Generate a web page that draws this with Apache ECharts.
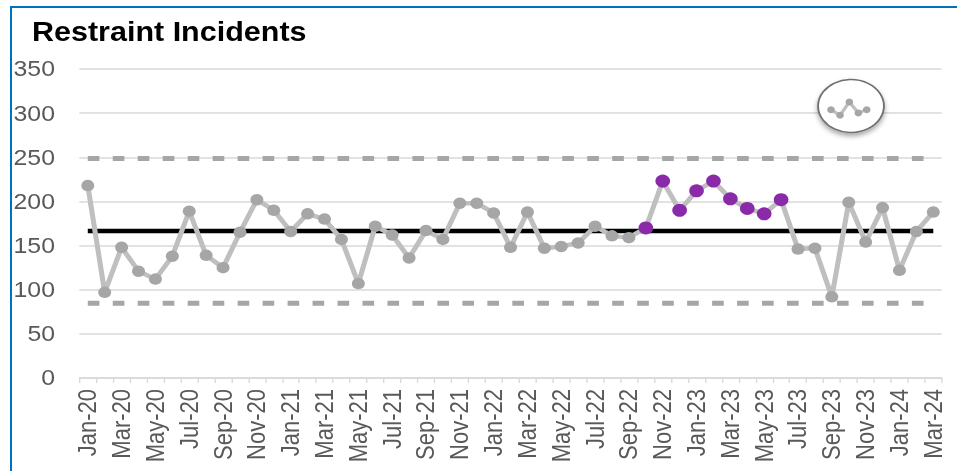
<!DOCTYPE html>
<html>
<head>
<meta charset="utf-8">
<title>Restraint Incidents</title>
<script src="https://cdn.jsdelivr.net/npm/echarts@6/dist/echarts.min.js"></script>
<style>
  html, body { margin: 0; padding: 0; background: #fff; }
  #wrap { position: relative; width: 957px; height: 471px; overflow: hidden; background: #fff; }
  #frame { position: absolute; left: 10px; top: 6px; right: -10px; bottom: -10px;
           border-left: 2px solid #0070C0; border-top: 2px solid #0070C0; }
  /* the chart is laid out narrow and widened to the full frame */
  #chart { position: absolute; left: 0; top: 0; width: 847px; height: 471px;
           transform: scaleX(1.13); transform-origin: 0 0; }
</style>
</head>
<body>
<div id="wrap">
  <div id="frame"></div>
  <div id="chart"></div>
</div>
<script>
// Monthly restraint incidents, Jan 2020 – Mar 2024
const months = [
  'Jan-20','Feb-20','Mar-20','Apr-20','May-20','Jun-20','Jul-20','Aug-20','Sep-20','Oct-20','Nov-20','Dec-20',
  'Jan-21','Feb-21','Mar-21','Apr-21','May-21','Jun-21','Jul-21','Aug-21','Sep-21','Oct-21','Nov-21','Dec-21',
  'Jan-22','Feb-22','Mar-22','Apr-22','May-22','Jun-22','Jul-22','Aug-22','Sep-22','Oct-22','Nov-22','Dec-22',
  'Jan-23','Feb-23','Mar-23','Apr-23','May-23','Jun-23','Jul-23','Aug-23','Sep-23','Oct-23','Nov-23','Dec-23',
  'Jan-24','Feb-24','Mar-24'
];
const incidents = [
  218, 97, 148, 121, 112, 138, 189, 139, 125, 165, 202, 190,
  166, 186, 180, 157, 107, 172, 162, 136, 167, 157, 198, 198,
  187, 148, 188, 147, 149, 153, 172, 161, 159, 170, 223, 190,
  212, 223, 203, 192, 186, 202, 146, 147, 92, 199, 154, 193,
  122, 166, 188
];
// Months flagged as a run above the mean
const flaggedMonths = ['Oct-22','Nov-22','Dec-22','Jan-23','Feb-23','Mar-23','Apr-23','May-23','Jun-23'];

// Process limits
const meanValue = 166.6;
const upperLimit = 248.6;
const lowerLimit = 84.6;

const yTicks = { min: 0, max: 350, step: 50 };

const FONT = '"Liberation Sans", Arial, sans-serif';
const GREY_LINE = '#BFBFBF';
const GREY_DOT = '#A6A6A6';
const PURPLE = '#8B2AA9';

const chart = echarts.init(document.getElementById('chart'), null, { renderer: 'svg' });

const pointData = incidents.map((v, i) => {
  const flagged = flaggedMonths.includes(months[i]);
  return {
    value: v,
    symbolSize: flagged ? 13 : 11.5,
    itemStyle: { color: flagged ? PURPLE : GREY_DOT }
  };
});
const constant = (val) => months.map(() => val);

// Small variation icon in the top-right corner
const sparkX = [735.4, 743.4, 751.6, 759.6, 767.0];
const sparkY = [109.7, 115.3, 102.0, 113.0, 109.7];
const sparkPts = sparkX.map((x, i) => [x, sparkY[i]]);

const limitStyle = { color: GREY_DOT, width: 5, type: [10.3, 11.8], cap: 'butt' };

chart.setOption({
  animation: false,
  title: {
    text: 'Restraint Incidents',
    left: 28.3,
    top: 18.5,
    padding: 0,
    textStyle: { fontFamily: FONT, fontSize: 27, fontWeight: 'bold', color: '#000' }
  },
  grid: { left: 70.2, right: 13.6, top: 69, bottom: 93, containLabel: false },
  xAxis: {
    type: 'category',
    data: months,
    boundaryGap: true,
    axisLine: { lineStyle: { color: '#D9D9D9', width: 1.5 } },
    axisTick: { show: true, interval: 0, length: 5, lineStyle: { color: '#D9D9D9', width: 1.2 } },
    axisLabel: { interval: 1, rotate: 90, margin: 11, fontFamily: FONT, fontSize: 22, color: '#595959' },
    splitLine: { show: false }
  },
  yAxis: {
    type: 'value',
    min: yTicks.min,
    max: yTicks.max,
    interval: yTicks.step,
    axisLine: { show: false },
    axisTick: { show: false },
    axisLabel: { margin: 21.5, fontFamily: FONT, fontSize: 22, color: '#595959' },
    splitLine: { lineStyle: { color: '#D9D9D9', width: 1.5 } }
  },
  series: [
    {
      name: 'Upper limit', type: 'line', data: constant(upperLimit), symbol: 'none', silent: true,
      lineStyle: limitStyle, z: 2
    },
    {
      name: 'Lower limit', type: 'line', data: constant(lowerLimit), symbol: 'none', silent: true,
      lineStyle: limitStyle, z: 2
    },
    {
      name: 'Mean', type: 'line', data: constant(meanValue), symbol: 'none', silent: true,
      lineStyle: { color: '#000', width: 4.5 }, z: 3
    },
    {
      name: 'Incidents', type: 'line', data: pointData,
      symbol: 'circle', showAllSymbol: true,
      lineStyle: { color: GREY_LINE, width: 4.5 },
      itemStyle: { color: GREY_DOT, borderWidth: 0 },
      z: 4
    }
  ],
  graphic: [
    {
      type: 'circle',
      shape: { cx: 0, cy: 0, r: 26.5 },
      x: 753.1, y: 106, scaleX: 1.1,
      style: { fill: '#fff', stroke: '#6F6F6F', lineWidth: 1.5,
               shadowBlur: 5, shadowOffsetY: 3, shadowColor: 'rgba(0,0,0,0.35)' },
      z: 10
    },
    {
      type: 'polyline',
      shape: { points: sparkPts },
      style: { stroke: GREY_LINE, lineWidth: 3, fill: null },
      z: 11
    },
    ...sparkPts.map(p => ({
      type: 'circle',
      shape: { cx: p[0], cy: p[1], r: 3.4 },
      style: { fill: GREY_DOT },
      z: 12
    }))
  ]
});
</script>
</body>
</html>
